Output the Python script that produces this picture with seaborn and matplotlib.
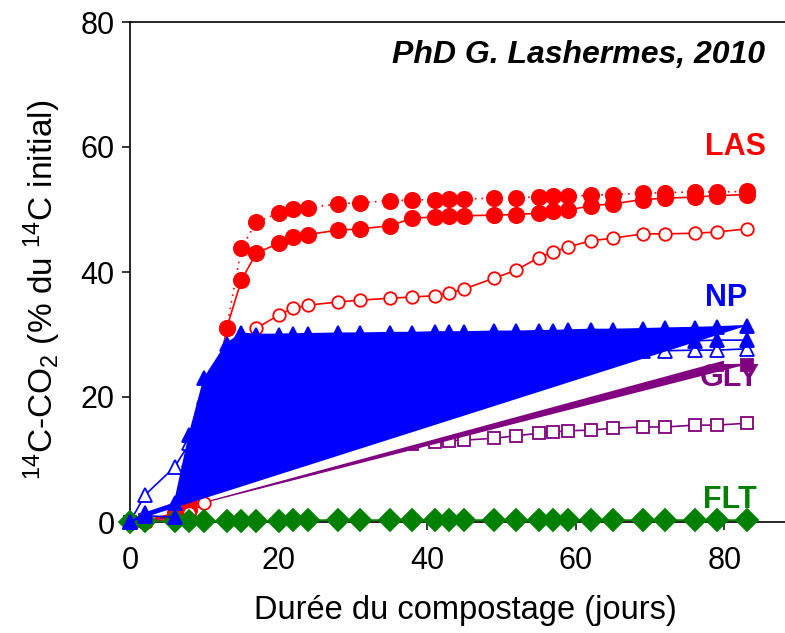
import numpy as np
import matplotlib
matplotlib.use("Agg")
import matplotlib.pyplot as plt
import seaborn as sns

# Sampling days of the composting run
days = [0, 2, 6, 8, 10, 13, 15, 17, 20, 22, 24, 28, 31, 35, 38, 41, 43, 45,
        49, 52, 55, 57, 59, 62, 65, 69, 72, 76, 79, 83]

# Cumulative 14C-CO2 (% of initial 14C)
las_dotted = [0, 0.2, 0.8, 2, 8, 31, 43.8, 48, 49.4, 50.1, 50.3, 50.9, 51.1, 51.4,
              51.5, 51.6, 51.7, 51.7, 51.8, 51.9, 52.0, 52.1, 52.1, 52.3, 52.4,
              52.6, 52.7, 52.8, 52.8, 52.9]
las_solid = [0, 0.2, 1.4, 3, 10, 31, 38.7, 43.0, 44.6, 45.6, 46.0, 46.7, 46.9, 47.4,
             48.6, 48.8, 48.9, 49.0, 49.1, 49.2, 49.4, 49.7, 49.9, 50.6, 50.9,
             51.6, 51.8, 52.0, 52.2, 52.4]
las_open = [0, 0, 0.5, 1.4, 3, 20, 27, 31, 33.1, 34.2, 34.7, 35.2, 35.5, 35.8,
            36.0, 36.2, 36.6, 37.3, 39.0, 40.3, 42.3, 43.2, 44.0, 45.0, 45.4,
            46.1, 46.1, 46.2, 46.4, 46.9]

np_fill = [0, 1.4, 3, 14, 23, 28.5, 30.2, 30.0, 30.0, 30.1, 30.1, 30.2, 30.2, 30.3,
           30.3, 30.4, 30.4, 30.4, 30.5, 30.5, 30.6, 30.6, 30.7, 30.8, 30.8,
           30.9, 31.0, 31.1, 31.2, 31.4]
np_solid = [0, 1, 0.8, 10, 20, 26, 27.5, 28, 28, 28.1, 28.1, 28.2, 28.2, 28.3,
            28.3, 28.4, 28.4, 28.4, 28.5, 28.5, 28.6, 28.6, 28.7, 28.7, 28.8,
            28.9, 28.9, 29.0, 29.1, 29.1]
np_open = [0, 4.3, 8.8, 12.6, 16, 19, 20.5, 21.5, 22.5, 23, 23.5, 24, 24.3, 24.7,
           25, 25.3, 25.5, 25.6, 25.9, 26.1, 26.3, 26.5, 26.6, 26.8, 27.0,
           27.3, 27.4, 27.5, 27.5, 27.7]

gly_fill = [0, 0.3, 1, 6, 14, 19.5, 21.5, 22.3, 22.8, 23.2, 23.4, 23.7, 23.8, 24.0,
            24.1, 24.2, 24.2, 24.3, 24.4, 24.5, 24.5, 24.6, 24.6, 24.7, 24.8,
            24.9, 24.9, 25.0, 25.1, 25.2]
gly_white = [0, 0.3, 1.2, 7, 15, 21, 23, 24, 24.5, 25, 25.2, 25.5, 25.6, 25.8,
             25.9, 26.0, 26.0, 26.1, 26.2, 26.3, 26.3, 26.4, 26.4, 26.5, 26.5,
             26.6, 26.6, 26.7, 26.7, 26.8]
gly_open = [0, 0.2, 0.8, 2, 4, 6.5, 8, 9, 10, 10.5, 11, 11.5, 11.8, 12.2, 12.5,
            12.8, 13.0, 13.1, 13.4, 13.8, 14.2, 14.4, 14.6, 14.7, 15.0, 15.2,
            15.2, 15.5, 15.5, 15.8]

flt_a = [0, 0.1, 0.1, 0.2, 0.2, 0.2, 0.2, 0.2, 0.2, 0.3, 0.3, 0.3, 0.3, 0.3, 0.3,
         0.3, 0.3, 0.3, 0.3, 0.3, 0.3, 0.3, 0.3, 0.3, 0.3, 0.3, 0.3, 0.3, 0.3, 0.3]

labels = ["LAS", "NP", "GLY", "FLT"]
label_x = [81.5, 80.3, 80.8, 80.8]
label_y = [60, 35.8, 23, 3.6]

RED, BLUE, PURPLE, GREEN = "#FF0000", "#0000FF", "#800080", "#008000"

sns.set_theme(style="ticks")
plt.rcParams["font.family"] = ["Liberation Sans", "DejaVu Sans"]
plt.rcParams["mathtext.default"] = "regular"
plt.rcParams["text.color"] = "black"
plt.rcParams["axes.labelcolor"] = "black"

fig = plt.figure(figsize=(7.85, 6.33), dpi=100)
ax = fig.add_axes([130 / 785, 1 - 522 / 633, 670 / 785, 500 / 633])

x = np.array(days, dtype=float)


def line(y, color, marker, ms, ls="-", face=None, z=5, lw=1.2):
    sns.lineplot(x=x, y=y, ax=ax, color=color, marker=marker, markersize=ms,
                 linestyle=ls, linewidth=lw, markeredgecolor=color,
                 markerfacecolor=face if face is not None else color,
                 markeredgewidth=1.3, clip_on=False, zorder=z,
                 estimator=None, sort=False, legend=False)


# GLY
line(gly_open, PURPLE, "s", 8.5, face="white", z=2)
line(gly_fill, PURPLE, "s", 8.5, z=2)
ax.fill(x, gly_fill, color=PURPLE, lw=0, zorder=3)
ax.fill(x, gly_white, color="white", lw=0, zorder=4)

# LAS
line(las_dotted, RED, "o", 11, ls=(0, (1, 3)), z=5)
line(las_solid, RED, "o", 11, z=5)
line(las_open, RED, "o", 9, face="white", z=5)

# NP
line(np_open, BLUE, "^", 10, face="white", z=5)
ax.fill(x, np_fill, color=BLUE, lw=0, zorder=6)
line(np_fill, BLUE, "^", 10, z=6)
line(np_solid, BLUE, "^", 10, z=7)

# FLT
line(flt_a, GREEN, "D", 11, z=5.5)

ax.set_xlim(0, 90.2)
ax.set_ylim(0, 80)
ax.set_xticks([0, 20, 40, 60, 80])
ax.set_yticks([0, 20, 40, 60, 80])
ax.tick_params(axis="both", direction="out", length=6, width=1.1,
               labelsize=22, colors="black")
ax.tick_params(axis="y", pad=5)
ax.tick_params(axis="x", pad=11)
for side in ["left", "bottom", "top"]:
    ax.spines[side].set_linewidth(1.2)
    ax.spines[side].set_color("black")
ax.spines["right"].set_visible(False)

ax.set_xlabel("Durée du compostage (jours)", fontsize=23.5, color="black")
ax.xaxis.set_label_coords(0.5, -0.145)
ax.set_ylabel(r"$^{14}$C-CO$_2$ (% du $^{14}$C initial)", fontsize=24,
              color="black")
ax.yaxis.set_label_coords(-0.1, 0.464)

ax.text(0.948, 0.934, "PhD G. Lashermes, 2010", transform=ax.transAxes,
        ha="right", va="center", fontsize=23, fontweight="bold",
        fontstyle="italic", color="black")

for name, lx, ly, c in zip(labels, label_x, label_y, [RED, BLUE, PURPLE, GREEN]):
    ax.text(lx, ly, name, color=c, ha="center", va="center",
            fontsize=22, fontweight="bold", zorder=10)

fig.savefig("out.png", dpi=100)
